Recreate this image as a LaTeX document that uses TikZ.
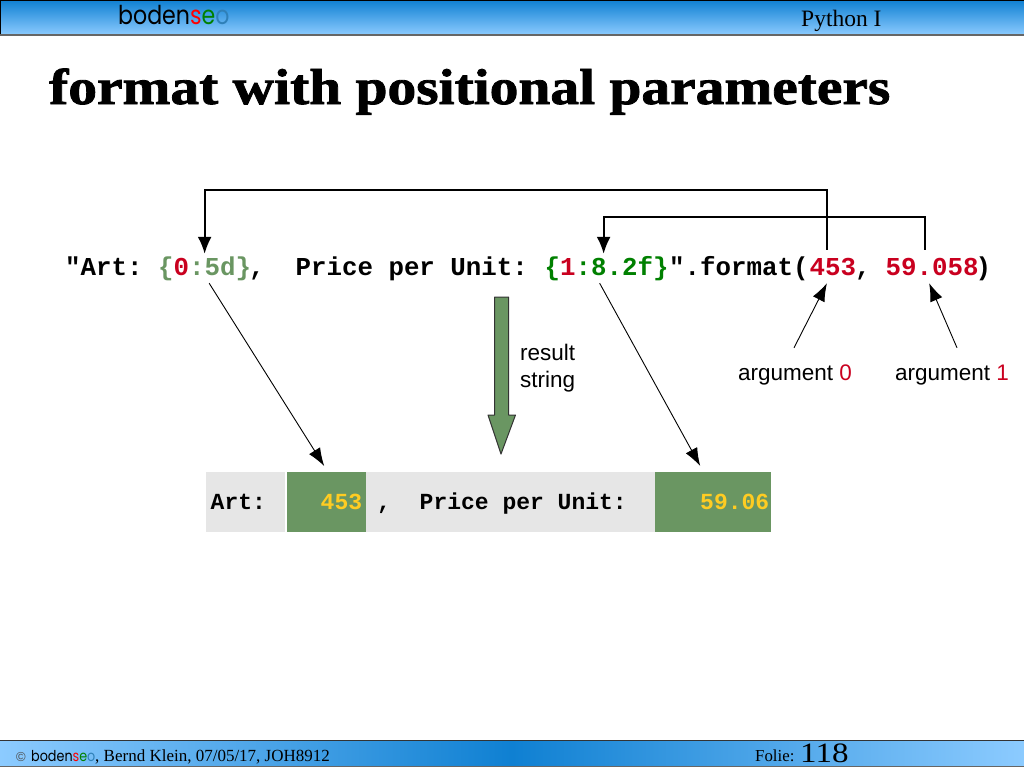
\documentclass[tikz,border=0pt]{standalone}
\usepackage{fontspec}
\setmainfont{Liberation Serif}
\setsansfont{Liberation Sans}
\setmonofont{Liberation Mono}
\newfontfamily\logofont[FakeStretch=0.85]{Poppins}
\newfontfamily\titlefont[FakeBold=1.6,FakeStretch=1.138]{Liberation Serif Bold}
\newfontfamily\slidefont[FakeStretch=1.18]{Liberation Serif}
\usetikzlibrary{arrows.meta}

\definecolor{barblue}{HTML}{0F80D2}
\definecolor{barlight}{HTML}{8CCBFF}
\definecolor{argred}{HTML}{C9001F}
\definecolor{palegreen}{HTML}{6A9662}
\definecolor{deepgreen}{HTML}{008000}
\definecolor{valyellow}{HTML}{FFCC22}
\definecolor{resultgray}{HTML}{E6E6E6}
\definecolor{logoblue}{HTML}{2F80B8}

\newcommand{\logotext}{\logofont boden{\color{red}s}{\color{deepgreen}e}{\color{logoblue}o}}

\tikzset{
  codetxt/.style={anchor=base west,inner sep=0pt,text height=21pt,text depth=8pt,
    font=\ttfamily\bfseries\fontsize{25.8}{30}\selectfont},
  restxt/.style={anchor=base west,inner sep=0pt,
    font=\ttfamily\bfseries\fontsize{23}{28}\selectfont},
  lbltxt/.style={anchor=base,inner sep=0pt,text height=16pt,text depth=5pt,
    font=\sffamily\fontsize{22.5}{27}\selectfont},
  elbow/.style={line width=2pt,-{Latex[length=17pt,width=14pt]}},
  pointer/.style={line width=0.9pt,-{Latex[length=18pt,width=13pt]}},
  greenbox/.style={fill=palegreen,inner sep=0pt,minimum height=60pt,anchor=north west},
  graybox/.style={fill=resultgray,inner sep=0pt,minimum height=60pt,anchor=north west}
}

\begin{document}
\begin{tikzpicture}[x=1pt,y=-1pt]
\useasboundingbox (0,0) rectangle (1024,768);

% header and footer bars
\shade[top color=barblue,bottom color=barlight] (0,0) rectangle (1024,35);
\draw[black,line width=1pt] (0.5,35) -- (0.5,0.5) -- (1024,0.5);
\draw[black!60,line width=1.5pt] (0,35) -- (1024,35);
\shade[left color=barlight,right color=barlight,middle color=barblue] (0,740) rectangle (1024,766);
\draw[black!80,line width=1pt] (0,740) -- (1024,740);
\draw[black!60,line width=1pt] (0,766) -- (1024,766) -- (1024,740);

\node[anchor=base west,inner sep=0pt,font=\fontsize{26}{30}\selectfont] (logotop) at (118,25) {\logotext};
\node[anchor=base west,inner sep=0pt,font=\fontsize{23.5}{28}\selectfont] (course) at (801,27) {Python I};
\node[anchor=base west,inner sep=0pt,font=\titlefont\fontsize{50.5}{56}\selectfont] (title) at (49,104) {format with positional parameters};

\node[anchor=base west,inner sep=0pt,font=\sffamily\fontsize{13}{15}\selectfont,text=black!70] (copysign) at (16,761) {©};
\node[anchor=base west,inner sep=0pt,font=\fontsize{15}{16}\selectfont] (logofoot) at (31,761) {\logotext};
\node[anchor=base west,inner sep=0pt,font=\fontsize{17}{20}\selectfont] (credit) at (95,761) {, Bernd Klein, 07/05/17, JOH8912};
\node[anchor=base west,inner sep=0pt,font=\fontsize{16.8}{18}\selectfont] (folie) at (755,761) {Folie:};
\node[anchor=base west,inner sep=0pt,font=\slidefont\fontsize{28}{30}\selectfont] (slideno) at (800,762) {118};

% format string
\node[codetxt] (art) at (65,275) {"Art:};
\node[codetxt] (ph0) at (158,275) {\textcolor{palegreen}{\{}\textcolor{argred}{0}\textcolor{palegreen}{:5d\}}};
\node[codetxt] (price) at (249,275) {,~~Price per Unit:};
\node[codetxt] (ph1) at (544.5,275) {\textcolor{deepgreen}{\{}\textcolor{argred}{1}\textcolor{deepgreen}{:8.2f\}}};
\node[codetxt] (fmt) at (669,275) {".format(};
\node[codetxt,text=argred] (arg0) at (809.5,275) {453};
\node[codetxt] (comma) at (855,275) {,};
\node[codetxt,text=argred] (arg1) at (885.5,275) {59.058};
\node[codetxt] (close) at (975.5,275) {)};

% argument labels
\node[lbltxt] (lbl0) at (795,380) {argument \textcolor{argred}{0}};
\node[lbltxt] (lbl1) at (952,380) {argument \textcolor{argred}{1}};
\node[anchor=west,inner sep=0pt,align=left,font=\sffamily\fontsize{22.5}{27}\selectfont] (resultlbl) at (520,368.5) {result\\string};

% result string
\node[graybox,minimum width=79pt] (resart) at (206,472) {};
\node[greenbox,minimum width=79pt] (val0) at (287,472) {};
\node[graybox,minimum width=289pt] (resprice) at (366,472) {};
\node[greenbox,minimum width=116pt] (val1) at (655,472) {};
\node[restxt] at (210.5,509) {Art:};
\node[restxt,text=valyellow] at (320.5,509) {453};
\node[restxt] at (377,509) {,};
\node[restxt] at (419.5,509) {Price per Unit:};
\node[restxt,text=valyellow] at (700,509) {59.06};

% big arrow
\draw[fill=palegreen,draw=black!80,line width=1pt,line join=round]
  (494.5,297) -- (508.5,297) -- (508.5,415) -- (515.5,415) -- (501,454) -- (488,415) -- (494.5,415) -- cycle;

% connectors
\coordinate (top0) at (827,190);
\coordinate (top1) at (925,217);
\draw[elbow] ([yshift=4pt]top0 |- arg0.north) -- (top0) -| (ph0.north);
\draw[elbow] ([yshift=4pt]top1 |- arg1.north) -- (top1) -| ([xshift=-3pt]ph1.north);
\draw[pointer] ([xshift=4.5pt]ph0.south) -- ([xshift=-2.5pt,yshift=6pt]val0.north);
\draw[pointer] ([xshift=-7pt]ph1.south) -- ([xshift=-13pt,yshift=6pt]val1.north);
\draw[pointer] ([xshift=-1pt,yshift=16pt]lbl0.north) -- ([xshift=-6pt]arg0.south);
\draw[pointer] ([xshift=5pt,yshift=16pt]lbl1.north) -- ([xshift=-3pt]arg1.south);

\end{tikzpicture}
\end{document}
